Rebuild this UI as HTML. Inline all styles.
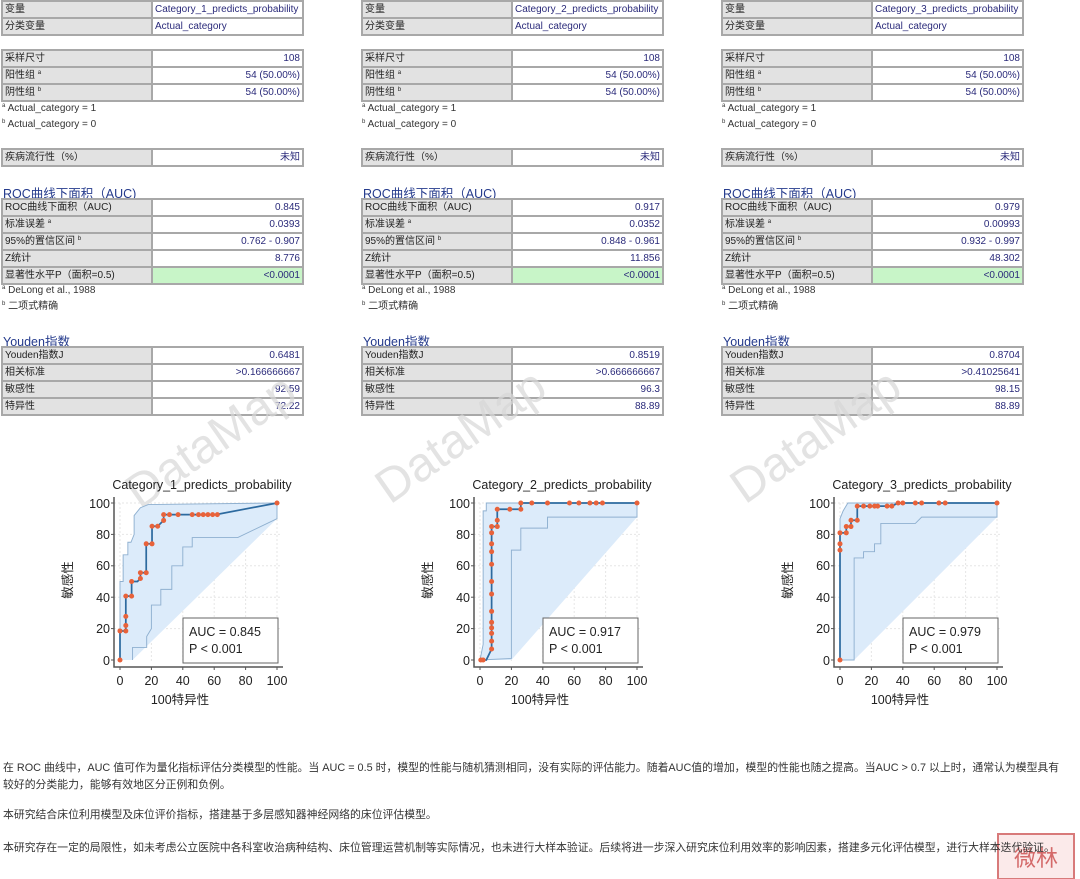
<!DOCTYPE html>
<html><head><meta charset="utf-8">
<style>
body{margin:0;width:1080px;height:879px;background:#fff;position:relative;overflow:hidden;font-family:"Liberation Sans","Noto Sans CJK SC",sans-serif;}
.col{position:absolute;top:0;width:360px;height:420px;}
table{position:absolute;left:1px;border-collapse:collapse;font-size:10px;}
td{height:15px;padding:0 2px;border:2px solid #a8a8a8;white-space:nowrap;line-height:15px;overflow:hidden;}
td.l{width:144px;background:#e2e2e2;color:#222;}
td.v{width:145px;background:#fff;color:#2a2a7a;text-align:right;}
td.t{text-align:left;}
td.g{background:#c8f5c8;}
.fn{position:absolute;left:2px;font-size:10px;color:#333;line-height:12px;}
.h{position:absolute;left:3px;font-size:12.5px;color:#243a8c;}
sup{font-size:6px;line-height:0;vertical-align:4px;}
.p{position:absolute;left:3px;font-size:10.85px;color:#333;white-space:nowrap;}
</style></head><body>

<div class="col" style="left:0">
<table style="top:0"><tr><td class="l">变量</td><td class="v t">Category_1_predicts_probability</td></tr><tr><td class="l">分类变量</td><td class="v t">Actual_category</td></tr></table>
<table style="top:49px"><tr><td class="l">采样尺寸</td><td class="v">108</td></tr><tr><td class="l">阳性组 <sup>a</sup></td><td class="v">54 (50.00%)</td></tr><tr><td class="l">阴性组 <sup>b</sup></td><td class="v">54 (50.00%)</td></tr></table>
<div class="fn" style="top:103px"><sup>a</sup> Actual_category = 1</div>
<div class="fn" style="top:119px"><sup>b</sup> Actual_category = 0</div>
<table style="top:148px"><tr><td class="l">疾病流行性（%）</td><td class="v">未知</td></tr></table>
<div class="h" style="top:183px">ROC曲线下面积（AUC)</div>
<table style="top:198px"><tr><td class="l">ROC曲线下面积（AUC)</td><td class="v">0.845</td></tr><tr><td class="l">标准误差 <sup>a</sup></td><td class="v">0.0393</td></tr><tr><td class="l">95%的置信区间 <sup>b</sup></td><td class="v">0.762 - 0.907</td></tr><tr><td class="l">Z统计</td><td class="v">8.776</td></tr><tr><td class="l">显著性水平P（面积=0.5)</td><td class="v g">&lt;0.0001</td></tr></table>
<div class="fn" style="top:285px"><sup>a</sup> DeLong et al., 1988</div>
<div class="fn" style="top:301px"><sup>b</sup> 二项式精确</div>
<div class="h" style="top:331px">Youden指数</div>
<table style="top:346px"><tr><td class="l">Youden指数J</td><td class="v">0.6481</td></tr><tr><td class="l">相关标准</td><td class="v">&gt;0.166666667</td></tr><tr><td class="l">敏感性</td><td class="v">92.59</td></tr><tr><td class="l">特异性</td><td class="v">72.22</td></tr></table>
</div>

<div class="col" style="left:360px">
<table style="top:0"><tr><td class="l">变量</td><td class="v t">Category_2_predicts_probability</td></tr><tr><td class="l">分类变量</td><td class="v t">Actual_category</td></tr></table>
<table style="top:49px"><tr><td class="l">采样尺寸</td><td class="v">108</td></tr><tr><td class="l">阳性组 <sup>a</sup></td><td class="v">54 (50.00%)</td></tr><tr><td class="l">阴性组 <sup>b</sup></td><td class="v">54 (50.00%)</td></tr></table>
<div class="fn" style="top:103px"><sup>a</sup> Actual_category = 1</div>
<div class="fn" style="top:119px"><sup>b</sup> Actual_category = 0</div>
<table style="top:148px"><tr><td class="l">疾病流行性（%）</td><td class="v">未知</td></tr></table>
<div class="h" style="top:183px">ROC曲线下面积（AUC)</div>
<table style="top:198px"><tr><td class="l">ROC曲线下面积（AUC)</td><td class="v">0.917</td></tr><tr><td class="l">标准误差 <sup>a</sup></td><td class="v">0.0352</td></tr><tr><td class="l">95%的置信区间 <sup>b</sup></td><td class="v">0.848 - 0.961</td></tr><tr><td class="l">Z统计</td><td class="v">11.856</td></tr><tr><td class="l">显著性水平P（面积=0.5)</td><td class="v g">&lt;0.0001</td></tr></table>
<div class="fn" style="top:285px"><sup>a</sup> DeLong et al., 1988</div>
<div class="fn" style="top:301px"><sup>b</sup> 二项式精确</div>
<div class="h" style="top:331px">Youden指数</div>
<table style="top:346px"><tr><td class="l">Youden指数J</td><td class="v">0.8519</td></tr><tr><td class="l">相关标准</td><td class="v">&gt;0.666666667</td></tr><tr><td class="l">敏感性</td><td class="v">96.3</td></tr><tr><td class="l">特异性</td><td class="v">88.89</td></tr></table>
</div>

<div class="col" style="left:720px">
<table style="top:0"><tr><td class="l">变量</td><td class="v t">Category_3_predicts_probability</td></tr><tr><td class="l">分类变量</td><td class="v t">Actual_category</td></tr></table>
<table style="top:49px"><tr><td class="l">采样尺寸</td><td class="v">108</td></tr><tr><td class="l">阳性组 <sup>a</sup></td><td class="v">54 (50.00%)</td></tr><tr><td class="l">阴性组 <sup>b</sup></td><td class="v">54 (50.00%)</td></tr></table>
<div class="fn" style="top:103px"><sup>a</sup> Actual_category = 1</div>
<div class="fn" style="top:119px"><sup>b</sup> Actual_category = 0</div>
<table style="top:148px"><tr><td class="l">疾病流行性（%）</td><td class="v">未知</td></tr></table>
<div class="h" style="top:183px">ROC曲线下面积（AUC)</div>
<table style="top:198px"><tr><td class="l">ROC曲线下面积（AUC)</td><td class="v">0.979</td></tr><tr><td class="l">标准误差 <sup>a</sup></td><td class="v">0.00993</td></tr><tr><td class="l">95%的置信区间 <sup>b</sup></td><td class="v">0.932 - 0.997</td></tr><tr><td class="l">Z统计</td><td class="v">48.302</td></tr><tr><td class="l">显著性水平P（面积=0.5)</td><td class="v g">&lt;0.0001</td></tr></table>
<div class="fn" style="top:285px"><sup>a</sup> DeLong et al., 1988</div>
<div class="fn" style="top:301px"><sup>b</sup> 二项式精确</div>
<div class="h" style="top:331px">Youden指数</div>
<table style="top:346px"><tr><td class="l">Youden指数J</td><td class="v">0.8704</td></tr><tr><td class="l">相关标准</td><td class="v">&gt;0.41025641</td></tr><tr><td class="l">敏感性</td><td class="v">98.15</td></tr><tr><td class="l">特异性</td><td class="v">88.89</td></tr></table>
</div>

<svg width="1080" height="879" style="position:absolute;left:0;top:0" font-family="Liberation Sans, Noto Sans CJK SC, sans-serif">
<defs>
<g id="frame">
 <g stroke="#e6e6e6" stroke-width="1" stroke-dasharray="2,2">
  <line x1="0" y1="503" x2="0" y2="663"/><line x1="31.4" y1="503" x2="31.4" y2="663"/><line x1="62.8" y1="503" x2="62.8" y2="663"/><line x1="94.2" y1="503" x2="94.2" y2="663"/><line x1="125.6" y1="503" x2="125.6" y2="663"/><line x1="157" y1="503" x2="157" y2="663"/>
  <line x1="-6" y1="503" x2="162" y2="503"/><line x1="-6" y1="534.4" x2="162" y2="534.4"/><line x1="-6" y1="565.8" x2="162" y2="565.8"/><line x1="-6" y1="597.2" x2="162" y2="597.2"/><line x1="-6" y1="628.6" x2="162" y2="628.6"/>
 </g>
 <polyline points="-6,497 -6,667 163,667" fill="none" stroke="#555" stroke-width="1.5"/>
 <g stroke="#555" stroke-width="1">
  <line x1="-9" y1="503" x2="-6" y2="503"/><line x1="-9" y1="534.4" x2="-6" y2="534.4"/><line x1="-9" y1="565.8" x2="-6" y2="565.8"/><line x1="-9" y1="597.2" x2="-6" y2="597.2"/><line x1="-9" y1="628.6" x2="-6" y2="628.6"/><line x1="-9" y1="660" x2="-6" y2="660"/>
  <line x1="0" y1="667" x2="0" y2="670"/><line x1="31.4" y1="667" x2="31.4" y2="670"/><line x1="62.8" y1="667" x2="62.8" y2="670"/><line x1="94.2" y1="667" x2="94.2" y2="670"/><line x1="125.6" y1="667" x2="125.6" y2="670"/><line x1="157" y1="667" x2="157" y2="670"/>
 </g>
 <g font-size="12.5" fill="#222" text-anchor="end">
  <text x="-10" y="508">100</text><text x="-10" y="539">80</text><text x="-10" y="570">60</text><text x="-10" y="602">40</text><text x="-10" y="633">20</text><text x="-10" y="665">0</text>
 </g>
 <g font-size="12.5" fill="#222" text-anchor="middle">
  <text x="0" y="685">0</text><text x="31.4" y="685">20</text><text x="62.8" y="685">40</text><text x="94.2" y="685">60</text><text x="125.6" y="685">80</text><text x="157" y="685">100</text>
  <text x="60" y="704" font-size="12.5">100特异性</text>
 </g>
 <text transform="translate(-48,580) rotate(-90)" font-size="12.5" fill="#222" text-anchor="middle">敏感性</text>
</g>
</defs>

<g font-size="48" fill="#d8d8d8" opacity="0.7">
 <text transform="translate(140,510) rotate(-35)">DataMap</text>
 <text transform="translate(390,505) rotate(-35)">DataMap</text>
 <text transform="translate(745,505) rotate(-35)">DataMap</text>
</g>

<g transform="translate(120,0)">
 <use href="#frame"/>
 <text x="82" y="489" font-size="12.5" fill="#222" text-anchor="middle">Category_1_predicts_probability</text>
 <g transform="translate(0,660) scale(1.57,-1.57)">
  <polygon points="0,0 0,50 2,50 2,67 5,67 5,75 7,75 9,80 9,92 13,97 18,99 100,100 100,90 8,0" fill="#dcebfa"/>
  <polyline points="0,0 0,50 2,50 2,67 5,67 5,75 7,75 9,80 9,92 13,97 18,99 100,100" fill="none" stroke="#8fb0d0" stroke-width="0.6"/>
  <polyline points="8,0 8,8 17,8 17,15 20,20 20,35 26,35 26,45 33,45 33,60 40,60 40,72 46,72 46,78 75,78 100,90 100,100" fill="none" stroke="#8fb0d0" stroke-width="0.6"/>
  <polyline points="0,0 0,18.5 3.7,18.5 3.7,40.7 7.4,40.7 7.4,50 11.1,50 13,51.9 13,55.6 16.7,55.6 16.7,74 20.4,74 20.4,85.2 24,85.2 27.8,88.9 27.8,92.6 61,92.6 100,100" fill="none" stroke="#2d6a9f" stroke-width="1.1"/>
  <g fill="#e8623a">
   <circle cx="0" cy="0" r="1.6"/><circle cx="0" cy="18.5" r="1.6"/><circle cx="3.7" cy="18.5" r="1.6"/><circle cx="3.7" cy="22" r="1.6"/><circle cx="3.7" cy="27.8" r="1.6"/><circle cx="3.7" cy="40.7" r="1.6"/><circle cx="7.4" cy="40.7" r="1.6"/><circle cx="7.4" cy="50" r="1.6"/><circle cx="13" cy="51.9" r="1.6"/><circle cx="13" cy="55.6" r="1.6"/><circle cx="16.7" cy="55.6" r="1.6"/><circle cx="16.7" cy="74" r="1.6"/><circle cx="20.4" cy="74" r="1.6"/><circle cx="20.4" cy="85.2" r="1.6"/><circle cx="24" cy="85.2" r="1.6"/><circle cx="27.8" cy="88.9" r="1.6"/><circle cx="27.8" cy="92.6" r="1.6"/><circle cx="31.5" cy="92.6" r="1.6"/><circle cx="37" cy="92.6" r="1.6"/><circle cx="46" cy="92.6" r="1.6"/><circle cx="50" cy="92.6" r="1.6"/><circle cx="53" cy="92.6" r="1.6"/><circle cx="56" cy="92.6" r="1.6"/><circle cx="59" cy="92.6" r="1.6"/><circle cx="62" cy="92.6" r="1.6"/><circle cx="100" cy="100" r="1.6"/>
  </g>
 </g>
 <rect x="63" y="618" width="95" height="45" fill="#fff" stroke="#666" stroke-width="1"/>
 <text x="69" y="636" font-size="12.5" fill="#222">AUC = 0.845</text>
 <text x="69" y="653" font-size="12.5" fill="#222">P &lt; 0.001</text>
</g>

<g transform="translate(480,0)">
 <use href="#frame"/>
 <text x="82" y="489" font-size="12.5" fill="#222" text-anchor="middle">Category_2_predicts_probability</text>
 <g transform="translate(0,660) scale(1.57,-1.57)">
  <polygon points="0,0 2,10 2,95 4,95 4,100 100,100 100,91 20,0" fill="#dcebfa"/>
  <polyline points="0,0 2,10 2,95 4,95 4,100 100,100" fill="none" stroke="#8fb0d0" stroke-width="0.6"/>
  <polyline points="0,0 20,1 20,70 26,70 26,84 43,84 43,91 100,91 100,100" fill="none" stroke="#8fb0d0" stroke-width="0.6"/>
  <polyline points="0,0 4,0 7.4,7 7.4,85 11,85 11,96 26,96 26,100 100,100" fill="none" stroke="#2d6a9f" stroke-width="1.1"/>
  <g fill="#e8623a">
   <circle cx="0.5" cy="0" r="1.6"/><circle cx="2" cy="0" r="1.6"/><circle cx="7.4" cy="7" r="1.6"/><circle cx="7.4" cy="12" r="1.6"/><circle cx="7.4" cy="17" r="1.6"/><circle cx="7.4" cy="20.5" r="1.6"/><circle cx="7.4" cy="24" r="1.6"/><circle cx="7.4" cy="31" r="1.6"/><circle cx="7.4" cy="42" r="1.6"/><circle cx="7.4" cy="50" r="1.6"/><circle cx="7.4" cy="61" r="1.6"/><circle cx="7.4" cy="69" r="1.6"/><circle cx="7.4" cy="74" r="1.6"/><circle cx="7.4" cy="81" r="1.6"/><circle cx="7.4" cy="85" r="1.6"/><circle cx="11" cy="85" r="1.6"/><circle cx="11" cy="89" r="1.6"/><circle cx="11" cy="96" r="1.6"/><circle cx="19" cy="96" r="1.6"/><circle cx="26" cy="96" r="1.6"/><circle cx="26" cy="100" r="1.6"/><circle cx="33" cy="100" r="1.6"/><circle cx="43" cy="100" r="1.6"/><circle cx="57" cy="100" r="1.6"/><circle cx="63" cy="100" r="1.6"/><circle cx="70" cy="100" r="1.6"/><circle cx="74" cy="100" r="1.6"/><circle cx="78" cy="100" r="1.6"/><circle cx="100" cy="100" r="1.6"/>
  </g>
 </g>
 <rect x="63" y="618" width="95" height="45" fill="#fff" stroke="#666" stroke-width="1"/>
 <text x="69" y="636" font-size="12.5" fill="#222">AUC = 0.917</text>
 <text x="69" y="653" font-size="12.5" fill="#222">P &lt; 0.001</text>
</g>

<g transform="translate(840,0)">
 <use href="#frame"/>
 <text x="82" y="489" font-size="12.5" fill="#222" text-anchor="middle">Category_3_predicts_probability</text>
 <g transform="translate(0,660) scale(1.57,-1.57)">
  <polygon points="0,0 0,90 2,95 5,100 100,100 100,91 9,0" fill="#dcebfa"/>
  <polyline points="0,0 0,90 2,95 5,100 100,100" fill="none" stroke="#8fb0d0" stroke-width="0.6"/>
  <polyline points="0,0 9,0 9,65 15,65 15,69 22,69 22,74 26,74 26,87 48,87 52,91 100,91 100,100" fill="none" stroke="#8fb0d0" stroke-width="0.6"/>
  <polyline points="0,0 0,81 4,81 4,85 7,85 7,89 11,89 11,98 33,98 37,100 100,100" fill="none" stroke="#2d6a9f" stroke-width="1.1"/>
  <g fill="#e8623a">
   <circle cx="0" cy="0" r="1.6"/><circle cx="0" cy="70" r="1.6"/><circle cx="0" cy="74" r="1.6"/><circle cx="0" cy="81" r="1.6"/><circle cx="4" cy="81" r="1.6"/><circle cx="4" cy="85" r="1.6"/><circle cx="7" cy="85" r="1.6"/><circle cx="7" cy="89" r="1.6"/><circle cx="11" cy="89" r="1.6"/><circle cx="11" cy="98" r="1.6"/><circle cx="15" cy="98" r="1.6"/><circle cx="19" cy="98" r="1.6"/><circle cx="22" cy="98" r="1.6"/><circle cx="24" cy="98" r="1.6"/><circle cx="30" cy="98" r="1.6"/><circle cx="33" cy="98" r="1.6"/><circle cx="37" cy="100" r="1.6"/><circle cx="40" cy="100" r="1.6"/><circle cx="48" cy="100" r="1.6"/><circle cx="52" cy="100" r="1.6"/><circle cx="63" cy="100" r="1.6"/><circle cx="67" cy="100" r="1.6"/><circle cx="100" cy="100" r="1.6"/>
  </g>
 </g>
 <rect x="63" y="618" width="95" height="45" fill="#fff" stroke="#666" stroke-width="1"/>
 <text x="69" y="636" font-size="12.5" fill="#222">AUC = 0.979</text>
 <text x="69" y="653" font-size="12.5" fill="#222">P &lt; 0.001</text>
</g>

<rect x="998" y="834" width="76" height="45" fill="#fbeaea" stroke="#d87a7a" stroke-width="2"/>
<text x="1036" y="866" font-size="22" fill="#d46a6a" text-anchor="middle">微林</text>
</svg>

<div class="p" style="top:759px">在 ROC 曲线中，AUC 值可作为量化指标评估分类模型的性能。当 AUC = 0.5 时，模型的性能与随机猜测相同，没有实际的评估能力。随着AUC值的增加，模型的性能也随之提高。当AUC &gt; 0.7 以上时，通常认为模型具有</div>
<div class="p" style="top:776px">较好的分类能力，能够有效地区分正例和负例。</div>
<div class="p" style="top:806px">本研究结合床位利用模型及床位评价指标，搭建基于多层感知器神经网络的床位评估模型。</div>
<div class="p" style="top:839px">本研究存在一定的局限性，如未考虑公立医院中各科室收治病种结构、床位管理运营机制等实际情况，也未进行大样本验证。后续将进一步深入研究床位利用效率的影响因素，搭建多元化评估模型，进行大样本迭代验证。</div>
</body></html>
